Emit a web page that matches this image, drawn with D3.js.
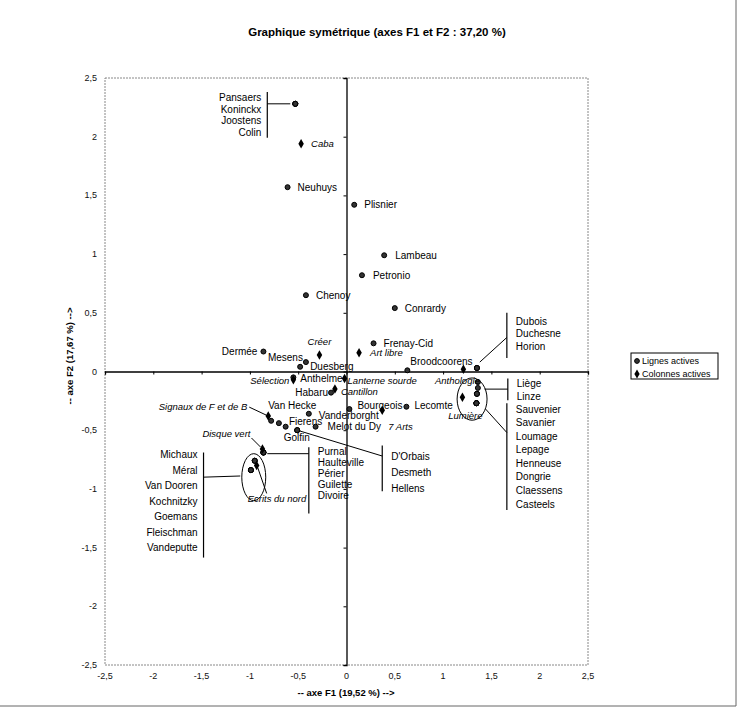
<!DOCTYPE html>
<html><head><meta charset="utf-8">
<script src="https://cdn.jsdelivr.net/npm/d3@7"></script>
<style>body{margin:0;background:#fff}svg{display:block;font-family:"Liberation Sans",Arial,sans-serif}</style>
</head><body><div id="chart"></div>
<script>
// ---- data ----
const titleText = "Graphique symétrique (axes F1 et F2 : 37,20 %)";
const xTitle = "-- axe F1 (19,52 %) -->";
const yTitle = "-- axe F2 (17,67 %) -->";
const tickValues = [-2.5,-2,-1.5,-1,-0.5,0,0.5,1,1.5,2,2.5];
const tickLabels = ["-2,5","-2","-1,5","-1","-0,5","0","0,5","1","1,5","2","2,5"];

const rowNames = ["Pansaers","Koninckx","Joostens","Colin","Neuhuys","Plisnier","Lambeau","Petronio","Chenoy","Conrardy","Frenay-Cid","Dermée","Mesens","Duesberg","Anthelme","Broodcoorens","Dubois","Duchesne","Horion","Habaru","Bourgeois","Lecomte","Vanderborght","Van Hecke","Fierens","Golfin","D'Orbais","Desmeth","Hellens","Melot du Dy","Purnal","Haulteville","Périer","Guilette","Divoire","Michaux","Méral","Van Dooren","Kochnitzky","Goemans","Fleischman","Vandeputte","Liège","Linze","Sauvenier","Savanier","Loumage","Lepage","Henneuse","Dongrie","Claessens","Casteels"];
const rowF1 = [-0.53,-0.53,-0.53,-0.53,-0.61,0.08,0.39,0.16,-0.42,0.50,0.28,-0.86,-0.42,-0.48,-0.55,0.63,1.35,1.35,1.35,-0.16,0.03,0.62,-0.39,-0.78,-0.70,-0.63,-0.51,-0.51,-0.51,-0.32,-0.86,-0.86,-0.86,-0.86,-0.86,-0.95,-0.95,-0.95,-0.99,-0.99,-0.99,-0.99,1.36,1.36,1.35,1.35,1.35,1.345,1.345,1.345,1.345,1.345];
const rowF2 = [2.28,2.28,2.28,2.28,1.57,1.42,0.99,0.82,0.65,0.54,0.24,0.17,0.08,0.04,-0.05,0.01,0.03,0.03,0.03,-0.18,-0.32,-0.30,-0.36,-0.42,-0.44,-0.47,-0.50,-0.50,-0.50,-0.47,-0.69,-0.69,-0.69,-0.69,-0.69,-0.76,-0.76,-0.76,-0.84,-0.84,-0.84,-0.84,-0.09,-0.14,-0.19,-0.19,-0.19,-0.27,-0.27,-0.27,-0.27,-0.27];

const colNames = ["Caba","Créer","Art libre","Sélection","Lanterne sourde","Cantillon","7 Arts","Anthologie","Lumière","Signaux de F et de B","Disque vert","Ecrits du nord"];
const colF1 = [-0.47,-0.28,0.13,-0.55,-0.02,-0.12,0.37,1.21,1.20,-0.81,-0.87,-0.93];
const colF2 = [1.94,0.14,0.16,-0.07,-0.06,-0.15,-0.33,0.02,-0.22,-0.38,-0.66,-0.80];

const legendLabels = ["Lignes actives","Colonnes actives"];

// ---- layout (annotation placement, pixels) ----
const W = 743, H = 712;
const x = d3.scaleLinear().domain([-2.5,2.5]).range([105,588]);
const y = d3.scaleLinear().domain([-2.5,2.5]).range([665,78]);

// single labels: [dx, dy, anchor]
const rowLabelPos = {
  "Neuhuys":[10,0,"start"],"Plisnier":[10,0,"start"],"Lambeau":[11,0,"start"],"Petronio":[11,0,"start"],
  "Chenoy":[10,0,"start"],"Conrardy":[10,0,"start"],"Frenay-Cid":[10,0,"start"],"Dermée":[-6,0,"end"],
  "Mesens":[-3,-5,"end"],"Duesberg":[10,0,"start"],"Anthelme":[7,1,"start"],"Broodcoorens":[3,-9,"start"],
  "Habaru":[-3,0,"end"],"Bourgeois":[8,-4,"start"],"Lecomte":[8,-1,"start"],"Vanderborght":[10,2,"start"],
  "Van Hecke":[-3,-15,"start"],"Fierens":[10,-2,"start"],"Golfin":[-2,11,"start"],"Melot du Dy":[12,0,"start"]
};
const colLabelPos = {
  "Caba":[10,0,"start"],"Créer":[0,-13,"middle"],"Art libre":[11,0,"start"],"Sélection":[-4,1,"end"],
  "Lanterne sourde":[3,2,"start"],"Cantillon":[6,3,"start"],"7 Arts":[6,16,"start"],"Anthologie":[-6,12,"middle"],
  "Lumière":[3,18,"middle"],"Signaux de F et de B":[-21,-9,"end"],"Disque vert":[-12,-15,"end"],"Ecrits du nord":[-9,33,"start"]
};
const colLeaders = {"Signaux de F et de B":[-19,-9,-2,-1],"Disque vert":[-11,-11,-2,-2],"Ecrits du nord":[1,2,10,28]};

// bracketed groups
const groups = [
  {names:["Pansaers","Koninckx","Joostens","Colin"], bx:-0.82, y1:2.38, y2:1.99, side:"left", lab1:2.33, lab2:2.04, conn:"h"},
  {names:["Dubois","Duchesne","Horion"], bx:1.66, y1:0.50, y2:0.115, side:"right", lab1:0.43, lab2:0.21, conn:[[1.38,0.08],[1.66,0.29]]},
  {names:["Liège","Linze"], bx:1.67, y1:-0.06, y2:-0.245, side:"right", lab1:-0.10, lab2:-0.21, conn:[[1.43,-0.15],[1.67,-0.15]]},
  {names:["Sauvenier","Savanier","Loumage","Lepage","Henneuse","Dongrie","Claessens","Casteels"], bx:1.66, y1:-0.27, y2:-1.18, side:"right", lab1:-0.32, lab2:-1.13, conn:[[1.44,-0.32],[1.66,-0.52]]},
  {names:["D'Orbais","Desmeth","Hellens"], bx:0.37, y1:-0.63, y2:-1.02, side:"right", lab1:-0.72, lab2:-1.0, conn:[[-0.51,-0.50],[0.37,-0.72]]},
  {names:["Purnal","Haulteville","Périer","Guilette","Divoire"], bx:-0.39, y1:-0.645, y2:-1.21, side:"right", lab1:-0.68, lab2:-1.06, conn:[[-0.82,-0.70],[-0.39,-0.70]]},
  {names:["Michaux","Méral","Van Dooren","Kochnitzky","Goemans","Fleischman","Vandeputte"], bx:-1.48, y1:-0.69, y2:-1.585, side:"left", lab1:-0.71, lab2:-1.50, conn:[[-1.48,-0.90],[-1.10,-0.89]]}
];
const ellipses = [{cx:1.30,cy:-0.235,rx:0.155,ry:0.18},{cx:-0.96,cy:-0.90,rx:0.124,ry:0.20}];

// ---- draw ----
const svg = d3.select("#chart").append("svg").attr("width",W).attr("height",H);
svg.append("rect").attr("width",W).attr("height",H).attr("fill","#fff");
svg.append("line").attr("x1",736).attr("x2",736).attr("y1",0).attr("y2",706).attr("stroke","#666").attr("stroke-width",1);
svg.append("line").attr("x1",0).attr("x2",736).attr("y1",706).attr("y2",706).attr("stroke","#666").attr("stroke-width",1);

svg.append("text").attr("x",377).attr("y",36).attr("text-anchor","middle")
  .attr("font-size",11.5).attr("font-weight","bold").text(titleText);

svg.append("rect").attr("x",x(-2.5)).attr("y",y(2.5)).attr("width",x(2.5)-x(-2.5)).attr("height",y(-2.5)-y(2.5))
  .attr("fill","none").attr("stroke","#888").attr("stroke-width",1).attr("stroke-dasharray","2,1");

const tl = svg.append("g").attr("font-size",9).attr("fill","#111");
tickValues.forEach((v,i)=>{
  tl.append("text").attr("x",x(v)).attr("y",y(-2.5)+14).attr("text-anchor","middle").text(tickLabels[i]);
  tl.append("text").attr("x",97).attr("y",y(v)+3).attr("text-anchor","end").text(tickLabels[i]);
});

const xAxis = d3.axisBottom(x).tickValues(d3.range(-2.5,2.51,0.5)).tickSize(3).tickFormat("");
const yAxis = d3.axisLeft(y).tickValues(d3.range(-2.5,2.51,0.5)).tickSize(3).tickFormat("");
const gx = svg.append("g").attr("transform",`translate(0,${y(0)})`).call(xAxis);
const gy = svg.append("g").attr("transform",`translate(${x(0)},0)`).call(yAxis);
[gx,gy].forEach(g=>{g.select(".domain").attr("stroke","#000").attr("stroke-width",1.3);g.selectAll(".tick line").attr("stroke","#000");});

svg.append("text").attr("x",346).attr("y",696).attr("text-anchor","middle").attr("font-size",9.5).attr("font-weight","bold").text(xTitle);
svg.append("text").attr("transform","translate(73,356) rotate(-90)").attr("text-anchor","middle").attr("font-size",9.5).attr("font-weight","bold").text(yTitle);

ellipses.forEach(e=>{
  svg.append("ellipse").attr("cx",x(e.cx)).attr("cy",y(e.cy)).attr("rx",x(e.cx+e.rx)-x(e.cx)).attr("ry",y(e.cy-e.ry)-y(e.cy))
    .attr("fill","none").attr("stroke","#000").attr("stroke-width",1);
});

const gG = svg.append("g").attr("font-size",10).attr("fill","#000");
groups.forEach(g=>{
  const bx = x(g.bx);
  gG.append("line").attr("x1",bx).attr("x2",bx).attr("y1",y(g.y1)).attr("y2",y(g.y2)).attr("stroke","#000").attr("stroke-width",1.2);
  if(g.conn==="h"){
    const i = rowNames.indexOf(g.names[0]);
    gG.append("line").attr("x1",bx).attr("x2",x(rowF1[i])-5).attr("y1",y(rowF2[i])).attr("y2",y(rowF2[i])).attr("stroke","#000");
  } else {
    gG.append("line").attr("x1",x(g.conn[0][0])).attr("y1",y(g.conn[0][1])).attr("x2",x(g.conn[1][0])).attr("y2",y(g.conn[1][1])).attr("stroke","#000");
  }
  const n = g.names.length;
  g.names.forEach((nm,k)=>{
    const v = g.lab1 + (g.lab2-g.lab1)*(n===1?0:k/(n-1));
    gG.append("text").attr("x", g.side==="left"? bx-6 : bx+9).attr("y",y(v)).attr("dy","0.35em")
      .attr("text-anchor", g.side==="left"?"end":"start").text(nm);
  });
});

const diamond = d3.symbol().type(d3.symbolDiamond).size(26);
const pts = svg.append("g");
rowNames.forEach((nm,i)=>{
  pts.append("circle").attr("cx",x(rowF1[i])).attr("cy",y(rowF2[i])).attr("r",2.5).attr("fill","#333").attr("stroke","#000");
  const p = rowLabelPos[nm];
  if(p) pts.append("text").attr("x",x(rowF1[i])+p[0]).attr("y",y(rowF2[i])+p[1]).attr("dy","0.35em")
    .attr("text-anchor",p[2]).attr("font-size",10).text(nm);
});
colNames.forEach((nm,i)=>{
  const cx = x(colF1[i]), cy = y(colF2[i]);
  pts.append("path").attr("d",diamond).attr("transform",`translate(${cx},${cy})`).attr("fill","#000");
  const p = colLabelPos[nm];
  pts.append("text").attr("x",cx+p[0]).attr("y",cy+p[1]).attr("dy","0.35em").attr("text-anchor",p[2])
    .attr("font-size",9.5).attr("font-style","italic").text(nm);
  const l = colLeaders[nm];
  if(l) pts.append("line").attr("x1",cx+l[0]).attr("y1",cy+l[1]).attr("x2",cx+l[2]).attr("y2",cy+l[3]).attr("stroke","#000");
});

const lg = svg.append("g");
lg.append("rect").attr("x",631).attr("y",353).attr("width",87).attr("height",26).attr("fill","#fff").attr("stroke","#000");
lg.append("circle").attr("cx",637).attr("cy",361).attr("r",2.4).attr("fill","#333").attr("stroke","#000");
lg.append("path").attr("d",d3.symbol().type(d3.symbolDiamond).size(24)).attr("transform","translate(637,374)").attr("fill","#000");
legendLabels.forEach((t,i)=>lg.append("text").attr("x",642).attr("y",361+13*i).attr("dy","0.35em").attr("font-size",9).text(t));
</script></body></html>
